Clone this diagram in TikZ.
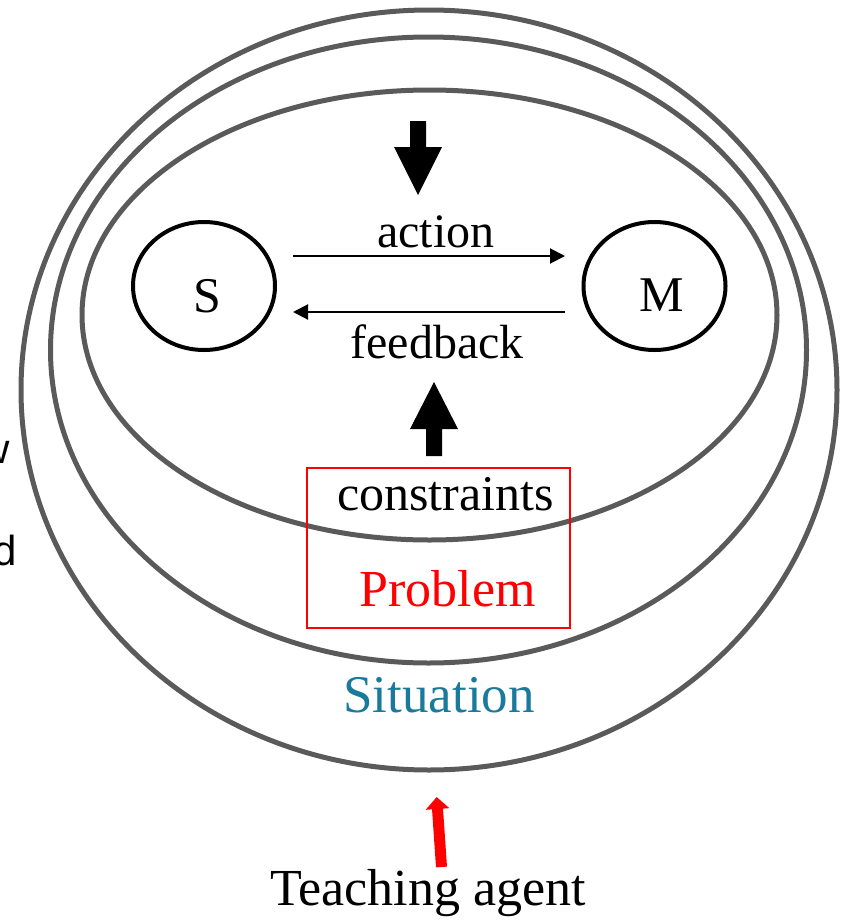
\documentclass[tikz,border=0pt]{standalone}
\usepackage{fontspec}
\setmainfont{Liberation Serif}
\newfontfamily\labelsans{Liberation Sans}
\usetikzlibrary{arrows.meta,shapes.geometric}
\definecolor{ringgray}{HTML}{5A5A5A}
\definecolor{sitblue}{HTML}{1A7A9C}
\tikzset{
  ring/.style={draw=ringgray, line width=5pt},
  agentbox/.style={draw=black, line width=4pt, ellipse, minimum width=142pt, minimum height=128pt, inner sep=0pt},
  txt/.style={anchor=base, inner sep=0pt, font=\fontsize{#1}{#1}\selectfont},
  sidetxt/.style={anchor=base east, inner sep=0pt, font=\labelsans\fontsize{42pt}{42pt}\selectfont},
  thinarrow/.style={line width=2pt, -{Triangle[length=15pt,width=15pt]}},
  fatarrow/.style={fill=black, draw=none},
}
\begin{document}
\begin{tikzpicture}[x=1pt, y=-1pt]
  \useasboundingbox (0,0) rectangle (842,921);

  % nested situation / problem / milieu rings
  \draw[ring] (429,390) ellipse [x radius=408pt, y radius=380pt];
  \draw[ring] (428.5,350) ellipse [x radius=378pt, y radius=313pt];
  \draw[ring] (429.5,315) ellipse [x radius=347.5pt, y radius=225pt];

  % student and milieu
  \node[agentbox] (S) at (204,286) {};
  \node[agentbox] (M) at (654.5,286) {};
  \node[txt=50pt] (Slab) at (207.5,312) {S};
  \node[txt=50pt] (Mlab) at (662,311) {M};

  % action / feedback exchange
  \coordinate (actA) at (293,256);
  \coordinate (actB) at (565,256);
  \coordinate (fbA) at (565,312);
  \coordinate (fbB) at (293,312);
  \draw[thinarrow] (actA) -- (actB);
  \draw[thinarrow] (fbA) -- (fbB);
  \node[txt=48pt] (action) at (436,247) {action};
  \node[txt=48pt] (feedback) at (437,358) {feedback};

  % block arrows
  \fill[fatarrow] (410,121) -- (426,121) -- (426,147) -- (442,147) -- (418,195)
                  -- (394,147) -- (410,147) -- cycle;
  \fill[fatarrow] (426,456) -- (442,456) -- (442,429) -- (458,429) -- (434,382)
                  -- (410,429) -- (426,429) -- cycle;

  % problem box
  \node[draw=red, line width=2pt, minimum width=263pt, minimum height=160pt, inner sep=0pt] (prob) at (438.5,548) {};
  \node[txt=50pt] (constraints) at (445.5,510) {constraints};
  \node[txt=52pt, text=red] (problem) at (447.5,606) {Problem};

  % situation label
  \node[txt=53pt, text=sitblue] (situation) at (439,712) {Situation};

  % teaching agent
  \node[txt=52pt] (agent) at (428,905) {Teaching agent};
  \coordinate (agentTop) at (441.5,867);
  \coordinate (agentTip) at (436.7,797);
  \draw[red, line width=11pt, -{Triangle[length=12pt,width=23pt]}] (agentTop) -- (agentTip);

  % side text running off the left edge
  \node[sidetxt] (wfrag) at (10,463) {w};
  \node[sidetxt] (dfrag) at (17,565) {d};
\end{tikzpicture}
\end{document}
